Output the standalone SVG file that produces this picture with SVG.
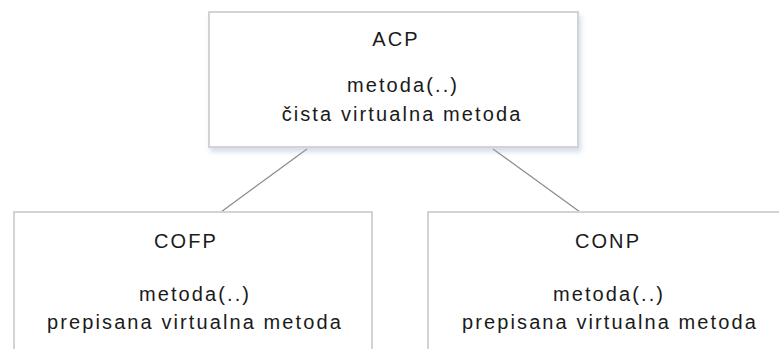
<svg xmlns="http://www.w3.org/2000/svg" width="779" height="349" viewBox="0 0 779 349">
<defs>
<filter id="sh" x="-10%" y="-10%" width="130%" height="140%">
<feGaussianBlur in="SourceAlpha" stdDeviation="2.5"/>
<feOffset dx="2" dy="4" result="b"/>
<feFlood flood-color="#9fb4d0" flood-opacity="0.45"/>
<feComposite in2="b" operator="in"/>
<feMerge><feMergeNode/><feMergeNode in="SourceGraphic"/></feMerge>
</filter>
</defs>
<style>
.box{fill:#ffffff;stroke:#d3d3d3;stroke-width:2}
.t{font-family:"Liberation Sans",Arial,sans-serif;font-size:20px;fill:#1a1a1a;text-anchor:middle;letter-spacing:2.1px}
.c{stroke:#8a8a8a;stroke-width:1.2;fill:none}
</style>
<rect width="779" height="349" fill="#ffffff"/>
<g id="connectors">
<line class="c" x1="307" y1="149" x2="221" y2="212"/>
<line class="c" x1="493" y1="149" x2="580" y2="212"/>
</g>
<g id="acp">
<rect class="box" x="209" y="12" width="369" height="135" filter="url(#sh)"/>
<text class="t" x="396" y="46">ACP</text>
<text class="t" x="403" y="92">metoda(..)</text>
<text class="t" x="402" y="121">čista virtualna metoda</text>
</g>
<g id="cofp">
<rect class="box" x="14" y="212" width="358" height="150"/>
<text class="t" x="186" y="248">COFP</text>
<text class="t" x="195" y="301">metoda(..)</text>
<text class="t" x="195" y="329">prepisana virtualna metoda</text>
</g>
<g id="conp">
<rect class="box" x="428" y="212" width="370" height="150"/>
<text class="t" x="608" y="248">CONP</text>
<text class="t" x="609" y="301">metoda(..)</text>
<text class="t" x="610" y="329">prepisana virtualna metoda</text>
</g>
</svg>
